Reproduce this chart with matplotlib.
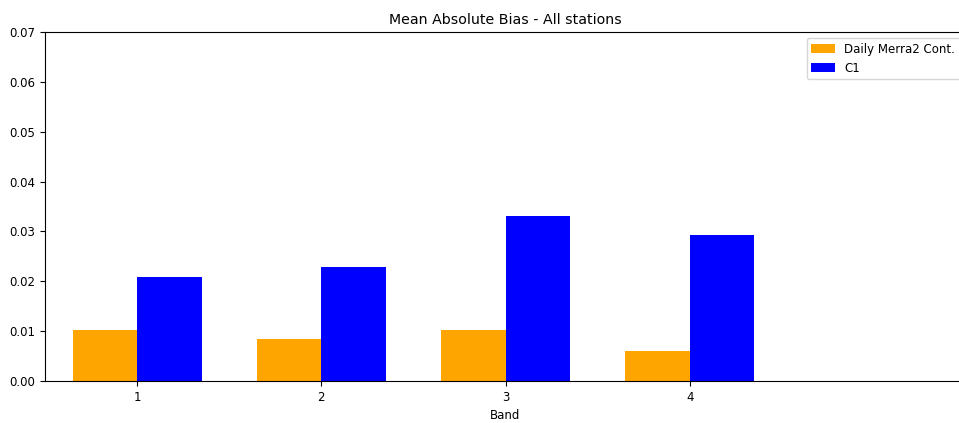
import matplotlib
matplotlib.use("Agg")
import matplotlib.pyplot as plt
import numpy as np

plt.rcParams["font.size"] = 8.5

bands = [1, 2, 3, 4]
merra2 = [0.0102, 0.0085, 0.0102, 0.0061]
c1 = [0.0208, 0.0228, 0.0330, 0.0293]
labels = ["Daily Merra2 Cont.", "C1"]

fig = plt.figure(figsize=(9.59, 4.23), dpi=100)
ax = fig.add_axes([45/959, 42/423, 921/959, 349/423])
x = np.array(bands, dtype=float)
w = 0.35
ax.bar(x - w/2, merra2, w, color="orange", label=labels[0])
ax.bar(x + w/2, c1, w, color="blue", label=labels[1])
ax.set_xticks(bands)
ax.set_xlim(0.5, 5.5)
ax.set_ylim(0, 0.07)
ax.set_yticks(np.arange(0, 0.071, 0.01))
ax.set_yticklabels([f"{v:.2f}" for v in np.arange(0, 0.071, 0.01)])
ax.spines["right"].set_visible(False)
ax.set_xlabel("Band")
ax.set_title("Mean Absolute Bias - All stations")
ax.legend(loc="upper right")
fig.savefig("out.png", dpi=100)
